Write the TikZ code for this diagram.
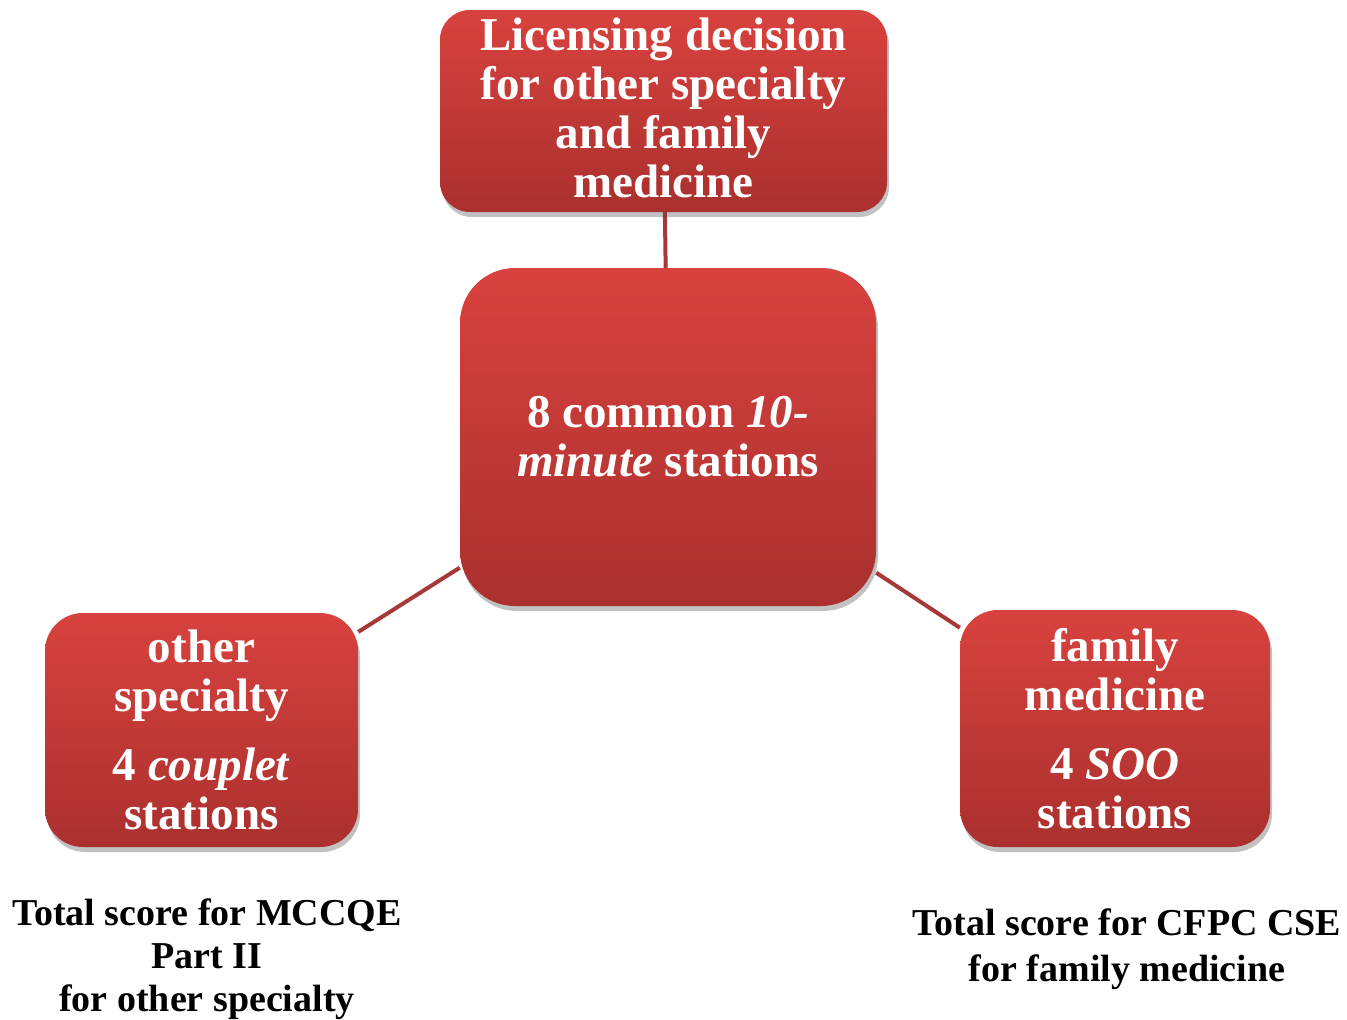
\documentclass[tikz,border=0pt]{standalone}
\usepackage{fontspec}
\setmainfont{Liberation Serif}
\usetikzlibrary{shadows,backgrounds}
\definecolor{boxtop}{RGB}{216,66,62}
\definecolor{boxbot}{RGB}{170,48,46}
\definecolor{linkcol}{RGB}{166,56,56}
\tikzset{
  redbox/.style={rectangle, top color=boxtop, bottom color=boxbot, draw=none,
    text=white, align=center, inner sep=0pt,
    font=\fontsize{47}{49}\selectfont\bfseries,
    drop shadow={shadow xshift=2pt, shadow yshift=-5pt, opacity=0.35, fill=black!70}},
  link/.style={draw=linkcol, line width=4pt},
  caption/.style={align=center, text=black, font=\fontsize{38}{43}\selectfont\bfseries}
}
\begin{document}
\begin{tikzpicture}[x=1pt,y=-1pt]
\useasboundingbox (0,0) rectangle (1347,1020);
\node[redbox, rounded corners=30pt, minimum width=447pt, minimum height=202pt] (top) at (663.5,111) {};
\node[text=white, align=center, inner sep=0pt, font=\fontsize{47}{49}\selectfont\bfseries] (toptext) at (663.5,108)
  {Licensing decision\\for other specialty\\and family\\medicine};
\node[redbox, rounded corners=55pt, minimum width=416pt, minimum height=338pt] (ctr) at (668,437)
  {8 common \textit{10-}\\\textit{minute} stations};
\node[redbox, rounded corners=38pt, minimum width=313pt, minimum height=234pt] (lft) at (201.5,730)
  {other\\specialty\\[20pt]4 \textit{couplet}\\stations};
\node[redbox, rounded corners=38pt, minimum width=310pt, minimum height=237pt] (rgt) at (1115,728.5)
  {family\\medicine\\[20pt]4 \textit{SOO}\\stations};
\begin{scope}[on background layer]
\draw[link] (top) -- (ctr);
\draw[link] (ctr) -- (lft);
\draw[link] (ctr) -- (rgt);
\end{scope}
\node[caption] (capl) at (207,959) {Total score for MCCQE\\Part II\\for other specialty};
\node[caption, font=\fontsize{38}{46}\selectfont\bfseries] (capr) at (1127,949) {Total score for CFPC CSE\\for family medicine};
\end{tikzpicture}
\end{document}
